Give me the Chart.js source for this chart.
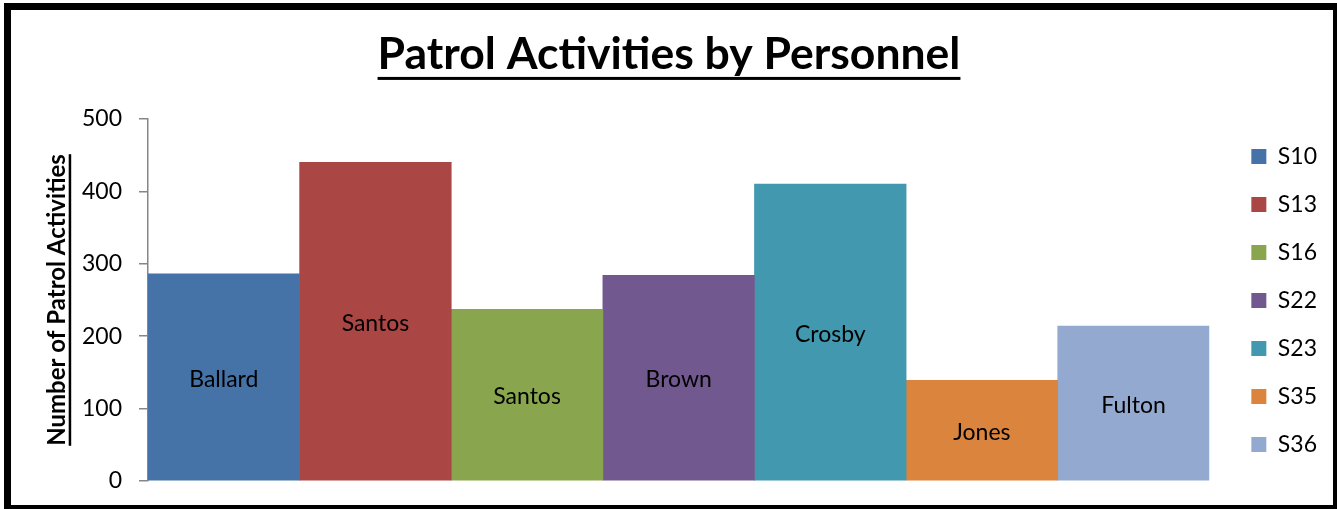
<!DOCTYPE html>
<html>
<head>
<meta charset="utf-8">
<script src="https://cdn.jsdelivr.net/npm/chart.js@4/dist/chart.umd.min.js"></script>
<style>
  body { margin: 0; background: #fff; overflow: hidden; }
  #frame {
    position: absolute; left: 4px; top: 3px;
    width: 1336px; height: 509px;
    box-sizing: border-box; border: 7px solid #000; background: #fff;
  }
  #wrap { position: relative; width: 1322px; height: 495px; }
</style>
</head>
<body>
<div id="frame"><div id="wrap"><canvas id="myChart"></canvas></div></div>
<script>
var codes = ["S10", "S13", "S16", "S22", "S23", "S35", "S36"];
var names = ["Ballard", "Santos", "Santos", "Brown", "Crosby", "Jones", "Fulton"];
var values = [286, 440, 237, 284, 410, 139, 214];
var barColors = ["#4572A7", "#AA4643", "#89A54E", "#71588F", "#4198AF", "#DB843D", "#93A9CF"];
var yTicks = [0, 100, 200, 300, 400, 500];

var FONT = "Lato";
var TITLE_SIZE = 44.5;
var TITLE_PAD = 18;

// one dataset per officer so the legend lists the codes
var datasets = codes.map(function (c, i) {
  return {
    label: c,
    data: [values[i]],
    backgroundColor: barColors[i],
    borderWidth: 0,
    barPercentage: 1,
    categoryPercentage: 1
  };
});

// names written in the middle of each bar, underlines for the titles
var extras = {
  id: "extras",
  afterDatasetsDraw: function (chart) {
    var ctx = chart.ctx;
    ctx.save();
    ctx.font = "23px " + FONT;
    ctx.fillStyle = "#000";
    ctx.textAlign = "center";
    ctx.textBaseline = "middle";
    chart.data.datasets.forEach(function (ds, i) {
      var bar = chart.getDatasetMeta(i).data[0];
      ctx.fillText(names[i], bar.x, (bar.y + bar.base) / 2 + 2);
    });
    ctx.restore();
  },
  afterDraw: function (chart) {
    var ctx = chart.ctx;
    ctx.save();
    ctx.fillStyle = "#000";
    // main title underline
    var t = chart.titleBlock;
    ctx.font = "bold " + TITLE_SIZE + "px " + FONT;
    var w = ctx.measureText(chart.options.plugins.title.text).width;
    var cx = (t.left + t.right) / 2;
    var midY = t.top + TITLE_PAD + TITLE_SIZE * 1.2 / 2;
    ctx.fillRect(cx - w / 2, midY + TITLE_SIZE * 0.387 + 5, w, 3);
    // y axis title underline
    var s = chart.scales.y;
    ctx.font = "bold 24px " + FONT;
    var yt = s.options.title.text;
    var w2 = ctx.measureText(yt).width;
    var tx = s.left + 32 + 24 * 1.2 / 2;
    var cy = (s.top + s.bottom) / 2;
    ctx.fillRect(tx + 9.3 + 2, cy - w2 / 2, 2.5, w2);
    ctx.restore();
  }
};

new Chart("myChart", {
  type: "bar",
  data: {
    labels: [""],
    datasets: datasets
  },
  options: {
    responsive: true,
    maintainAspectRatio: false,
    animation: false,
    layout: { padding: { top: 0, right: 6, bottom: 24, left: 0 } },
    plugins: {
      title: {
        display: true,
        text: "Patrol Activities by Personnel",
        color: "#000",
        font: { family: FONT, size: TITLE_SIZE, weight: "bold" },
        padding: { top: TITLE_PAD, bottom: 109 - TITLE_PAD - TITLE_SIZE * 1.2 }
      },
      legend: {
        position: "right",
        align: "end",
        labels: {
          color: "#000",
          font: { family: FONT, size: 23 },
          boxWidth: 15,
          boxHeight: 15,
          padding: 25
        }
      },
      tooltip: { enabled: false }
    },
    scales: {
      x: { display: false },
      y: {
        min: 0,
        max: 500,
        afterBuildTicks: function (axis) {
          axis.ticks = yTicks.map(function (v) { return { value: v }; });
        },
        afterFit: function (axis) {
          axis.width = 137;
          axis.paddingTop = 14;
          axis.paddingBottom = 14;
        },
        ticks: {
          color: "#000",
          font: { family: FONT, size: 23 },
          padding: 17
        },
        grid: {
          drawOnChartArea: false,
          drawTicks: true,
          tickLength: 9,
          color: "#868686",
          lineWidth: 1.5
        },
        border: { display: true, color: "#868686", width: 1.5 },
        title: {
          display: true,
          text: "Number of Patrol Activities",
          color: "#000",
          font: { family: FONT, size: 24, weight: "bold" },
          padding: { top: 32, bottom: 0 }
        }
      },
      gap: {
        position: "right",
        display: true,
        afterFit: function (axis) { axis.width = 17; },
        ticks: { display: false },
        grid: { display: false },
        border: { display: false }
      }
    }
  },
  plugins: [extras]
});
</script>
</body>
</html>
